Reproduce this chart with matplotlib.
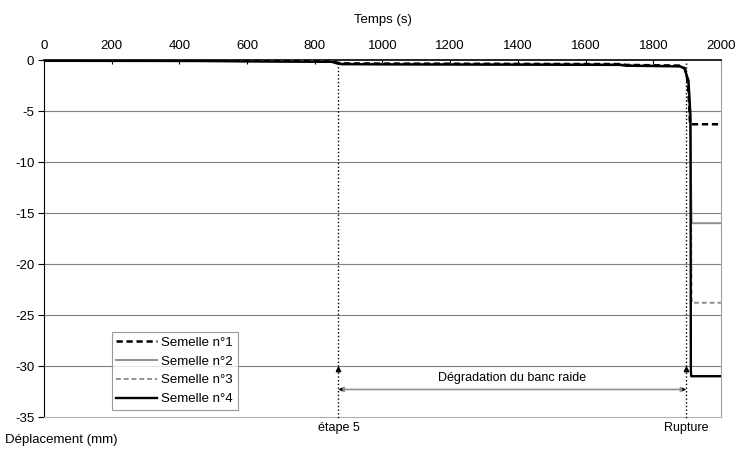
import matplotlib.pyplot as plt

plt.rcParams['font.family'] = ['Liberation Sans', 'DejaVu Sans']
plt.rcParams['axes.unicode_minus'] = False

# shared slow creep before rupture
t_pre = [0, 450, 600, 850, 865, 880, 1000, 1700, 1720, 1880, 1893, 1899]
d_pre = [0, -0.02, -0.06, -0.1, -0.25, -0.33, -0.35, -0.4, -0.48, -0.55, -0.8, -1.5]

t_s1 = t_pre + [1903, 1906, 1908, 1909, 2000]
d_s1 = d_pre + [-2.8, -4.5, -5.8, -6.3, -6.3]

t_s2 = t_pre + [1905, 1910, 1913, 1914, 2000]
d_s2 = [v - 0.05 for v in d_pre] + [-3.0, -8.0, -15.5, -16.0, -16.0]

t_s3 = t_pre + [1905, 1911, 1913, 1914, 2000]
d_s3 = [v - 0.02 for v in d_pre] + [-2.5, -10.0, -23.3, -23.8, -23.8]

t_s4 = t_pre + [1904, 1910, 1911, 1912, 2000]
d_s4 = [v - 0.08 for v in d_pre] + [-2.0, -5.5, -30.5, -31.0, -31.0]

t_etape5 = 870
t_rupture = 1897

fig = plt.figure(figsize=(7.36, 4.57), dpi=100)
ax = fig.add_axes([0.0598, 0.0875, 0.9198, 0.7812])

ax.plot(t_s1, d_s1, color='black', lw=1.8, ls=(0, (2.5, 1.5)), label='Semelle n°1', zorder=4)
ax.plot(t_s2, d_s2, color='#909090', lw=1.4, label='Semelle n°2', zorder=3)
ax.plot(t_s3, d_s3, color='#909090', lw=1.4, ls=(0, (2.5, 1.5)), label='Semelle n°3', zorder=3)
ax.plot(t_s4, d_s4, color='black', lw=1.7, label='Semelle n°4', zorder=3)

ax.set_xlim(0, 2000)
ax.set_ylim(-35, 0)
ax.set_xticks(range(0, 2001, 200))
ax.set_yticks(range(-35, 1, 5))
ax.xaxis.tick_top()
ax.xaxis.set_label_position('top')
ax.tick_params(axis='x', length=3, direction='in', labelsize=9.5, pad=6)
ax.tick_params(axis='y', length=4, direction='out', labelsize=9.5, pad=3)
ax.set_xlabel('Temps (s)', fontsize=9.5, labelpad=12)

for y in range(-30, 0, 5):
    ax.axhline(y, color='#808080', lw=0.8, zorder=1)
ax.spines['top'].set_color('black')
ax.spines['top'].set_linewidth(1.2)
ax.spines['left'].set_color('black')
ax.spines['right'].set_color('#a0a0a0')
ax.spines['bottom'].set_color('#b0b0b0')

# annotation lines
for t in (t_etape5, t_rupture):
    ax.plot([t, t], [-0.3, -35.3], color='black', lw=1, ls=':', clip_on=False, zorder=5)
    ax.plot(t, -30.3, marker='^', color='black', ms=3.2, zorder=6)

ax.annotate('', xy=(t_etape5, -32.3), xytext=(t_rupture, -32.3),
            arrowprops=dict(arrowstyle='<|-|>', color='#909090', lw=1.2,
                            mutation_scale=7, shrinkA=0, shrinkB=0), zorder=5)
ax.annotate('', xy=(t_etape5, -32.3), xytext=(t_rupture, -32.3),
            arrowprops=dict(arrowstyle='<|-|>', color='black', lw=0,
                            mutation_scale=7, shrinkA=0, shrinkB=0), zorder=6)
ax.text((t_etape5 + t_rupture) / 2, -31.2, 'Dégradation du banc raide',
        ha='center', va='center', fontsize=9)
ax.text(t_etape5, -35.5, 'étape 5', ha='center', va='top', fontsize=9)
ax.text(t_rupture, -35.5, 'Rupture', ha='center', va='top', fontsize=9)

fig.text(0.007, 0.038, 'Déplacement (mm)', fontsize=9.5, ha='left', va='center')

leg = ax.legend(loc='lower left', bbox_to_anchor=(0.1, 0.02), fontsize=9.5,
                frameon=True, fancybox=False, edgecolor='#808080',
                handlelength=3.1, handletextpad=0.3, labelspacing=0.5,
                borderpad=0.35, borderaxespad=0)
leg.get_frame().set_linewidth(0.8)
leg.set_zorder(10)

fig.savefig('out.png', dpi=100)
